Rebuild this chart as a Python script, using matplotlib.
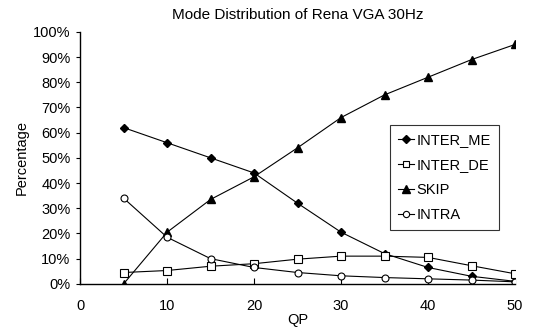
import matplotlib
matplotlib.use("Agg")
import matplotlib.pyplot as plt
from matplotlib.ticker import FuncFormatter

plt.rcParams['font.family'] = ['Liberation Sans', 'DejaVu Sans']

qp = [5, 10, 15, 20, 25, 30, 35, 40, 45, 50]
inter_me = [62, 56, 50, 44, 32, 20.5, 12, 6.5, 3, 1]
inter_de = [4.5, 5.3, 7, 8, 9.8, 11, 11, 10.5, 7.2, 4]
skip = [0, 20.5, 33.5, 42.5, 54, 66, 75, 82, 89, 95]
intra = [34, 18.5, 10, 6.5, 4.5, 3.2, 2.5, 2, 1.5, 0.8]

fig = plt.figure(figsize=(5.45, 3.32), dpi=100)
ax = fig.add_axes([0.147, 0.145, 0.798, 0.759])

lw = 0.8
ax.plot(qp, inter_me, color='black', lw=lw, marker='D', ms=4.5, mfc='black', mec='black', label='INTER_ME')
ax.plot(qp, inter_de, color='black', lw=lw, marker='s', ms=5.5, mfc='white', mec='black', mew=0.8, label='INTER_DE')
ax.plot(qp, skip, color='black', lw=lw, marker='^', ms=6, mfc='black', mec='black', label='SKIP')
ax.plot(qp, intra, color='black', lw=lw, marker='o', ms=5, mfc='white', mec='black', mew=0.8, label='INTRA')

ax.set_xlim(0, 50)
ax.set_ylim(0, 100)
ax.set_xticks(range(0, 51, 10))
ax.set_yticks(range(0, 101, 10))
ax.yaxis.set_major_formatter(FuncFormatter(lambda v, p: f"{int(v)}%"))
ax.spines['top'].set_visible(False)
ax.spines['right'].set_visible(False)
ax.spines['left'].set_linewidth(1.0)
ax.spines['bottom'].set_linewidth(1.0)
ax.tick_params(axis='x', direction='in', length=4, pad=11, labelsize=10.5)
ax.tick_params(axis='y', direction='out', length=3, pad=4, labelsize=10.5)

ax.set_title('Mode Distribution of Rena VGA 30Hz', fontsize=11, pad=9)
ax.set_xlabel('QP', fontsize=10.5, labelpad=0)
ax.set_ylabel('Percentage', fontsize=10.5, labelpad=3)

leg = ax.legend(loc='upper left', bbox_to_anchor=(0.716, 0.623), bbox_transform=fig.transFigure,
                borderaxespad=0, frameon=True, fancybox=False, edgecolor='black', fontsize=10.5,
                handlelength=1.1, handletextpad=0.15, labelspacing=0.75, borderpad=0.55, markerscale=0.9)
leg.get_frame().set_linewidth(0.8)

fig.savefig('out.png', dpi=100)
